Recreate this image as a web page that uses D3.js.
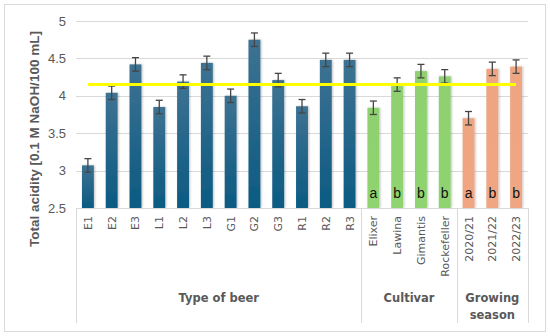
<!DOCTYPE html>
<html><head><meta charset="utf-8">
<script src="https://cdn.jsdelivr.net/npm/d3@7"></script>
<style>body{margin:0;background:#fff}svg{display:block}</style>
</head><body>
<script>
const categories = ["E1","E2","E3","L1","L2","L3","G1","G2","G3","R1","R2","R3","Elixer","Lawina","Gimantis","Rockefeller","2020/21","2021/22","2022/23"];
const values = [3.07,4.04,4.42,3.85,4.19,4.44,4.00,4.75,4.21,3.86,4.48,4.48,3.84,4.15,4.33,4.26,3.70,4.36,4.39];
const errors = [0.09,0.09,0.09,0.09,0.09,0.09,0.09,0.09,0.09,0.09,0.09,0.09,0.09,0.09,0.09,0.09,0.09,0.09,0.09];
const groupOf = [0,0,0,0,0,0,0,0,0,0,0,0,1,1,1,1,2,2,2];
const letters = ["","","","","","","","","","","","","a","b","b","b","a","b","b"];
const groups = [["Type of beer"],["Cultivar"],["Growing","season"]];
const yTicks = [2.5,3,3.5,4,4.5,5];
const meanLine = 4.15;
const yTitle = "Total acidity [0.1 M NaOH/100 mL]";

const W=550,H=336;
const svg=d3.select("body").append("svg").attr("width",W).attr("height",H);
svg.append("rect").attr("x",4.5).attr("y",4.5).attr("width",541).attr("height",327).attr("fill","#fff").attr("stroke","#d9d9d9");

const x=d3.scaleBand().domain(categories).range([76,528]).paddingInner(0.5).paddingOuter(0.25);
const y=d3.scaleLinear().domain([2.5,5]).range([208,21]);

const defs=svg.append("defs");
const grads=[["gBlue","#3e7292","#0b5a82"],["gGreen","#8fd070","#8fd470"],["gSalmon","#eea581","#f1a683"]];
grads.forEach(([id,c1,c2])=>{
  const g=defs.append("linearGradient").attr("id",id).attr("x1",0).attr("x2",0).attr("y1",0).attr("y2",1);
  g.append("stop").attr("offset","0%").attr("stop-color",c1);
  g.append("stop").attr("offset","100%").attr("stop-color",c2);
});
const f=defs.append("filter").attr("id","sh").attr("x","-30%").attr("y","-10%").attr("width","160%").attr("height","120%");
f.append("feDropShadow").attr("dx",1).attr("dy",0).attr("stdDeviation",1.2).attr("flood-color","#000").attr("flood-opacity",0.25);

// gridlines
svg.append("g").selectAll("line").data(yTicks.slice(1)).join("line")
  .attr("x1",76).attr("x2",528).attr("y1",d=>Math.round(y(d))+0.5).attr("y2",d=>Math.round(y(d))+0.5)
  .attr("stroke","#d9d9d9").attr("stroke-width",1);

// y axis
const ya=svg.append("g").attr("transform","translate(76,0)")
  .call(d3.axisLeft(y).tickValues(yTicks).tickSize(0).tickPadding(10).tickFormat(d3.format("")));
ya.select(".domain").remove();
ya.selectAll("text").attr("font-family","Liberation Sans, Arial, sans-serif").attr("font-size",13).attr("fill","#595959");

// bars
const fills=["url(#gBlue)","url(#gGreen)","url(#gSalmon)"];
svg.append("g").selectAll("rect").data(categories).join("rect")
  .attr("x",d=>x(d)).attr("width",x.bandwidth())
  .attr("y",(d,i)=>y(values[i])).attr("height",(d,i)=>y(2.5)-y(values[i]))
  .attr("fill",(d,i)=>fills[groupOf[i]]).attr("filter","url(#sh)");

// error bars
const eb=svg.append("g").attr("stroke","#454545").attr("stroke-width",1.3);
categories.forEach((c,i)=>{
  const cx=x(c)+x.bandwidth()/2, t=y(values[i]+errors[i]), b=y(values[i]-errors[i]);
  eb.append("line").attr("x1",cx).attr("x2",cx).attr("y1",t).attr("y2",b);
  eb.append("line").attr("x1",cx-3.5).attr("x2",cx+3.5).attr("y1",t).attr("y2",t);
  eb.append("line").attr("x1",cx-3.5).attr("x2",cx+3.5).attr("y1",b).attr("y2",b);
});

// mean line
svg.append("line").attr("x1",x(categories[0])+x.bandwidth()/2).attr("x2",x(categories[categories.length-1])+x.bandwidth()/2)
  .attr("y1",y(meanLine)).attr("y2",y(meanLine)).attr("stroke","#ffff00").attr("stroke-width",3);

// letters
svg.append("g").selectAll("text").data(categories).join("text")
  .attr("x",d=>x(d)+x.bandwidth()/2).attr("y",198)
  .attr("text-anchor","middle").attr("font-family","Liberation Sans, Arial, sans-serif").attr("font-size",14).attr("fill","#111")
  .text((d,i)=>letters[i]);

// x axis line
svg.append("line").attr("x1",76).attr("x2",528).attr("y1",208.5).attr("y2",208.5).attr("stroke","#d9d9d9");

// category labels
svg.append("g").selectAll("text").data(categories).join("text")
  .attr("transform",d=>`translate(${x(d)+x.bandwidth()/2+4},216) rotate(-90)`)
  .attr("text-anchor","end").attr("font-family","DejaVu Sans, sans-serif").attr("font-size",11).attr("fill","#595959")
  .text(d=>d);

// group separators
const bounds=[0,12,16,19];
const step=x.step();
bounds.forEach(b=>{
  const xx=Math.round(76+b*step)+0.5;
  svg.append("line").attr("x1",xx).attr("x2",xx).attr("y1",208).attr("y2",323).attr("stroke","#d9d9d9");
});
groups.forEach((g,gi)=>{
  const cx=76+(bounds[gi]+bounds[gi+1])/2*step;
  const t=svg.append("text").attr("x",cx).attr("y",302).attr("text-anchor","middle")
    .attr("font-family","DejaVu Sans, sans-serif").attr("font-size",11.5).attr("font-weight","bold").attr("fill","#595959");
  g.forEach((s,si)=>t.append("tspan").attr("x",cx).attr("dy",si?17:0).text(s));
});

// y title
svg.append("text").attr("transform","translate(39,139) rotate(-90)").attr("text-anchor","middle")
  .attr("font-family","Liberation Sans, Arial, sans-serif").attr("font-size",13.5).attr("font-weight","bold").attr("fill","#595959")
  .text(yTitle);
</script>
</body></html>
